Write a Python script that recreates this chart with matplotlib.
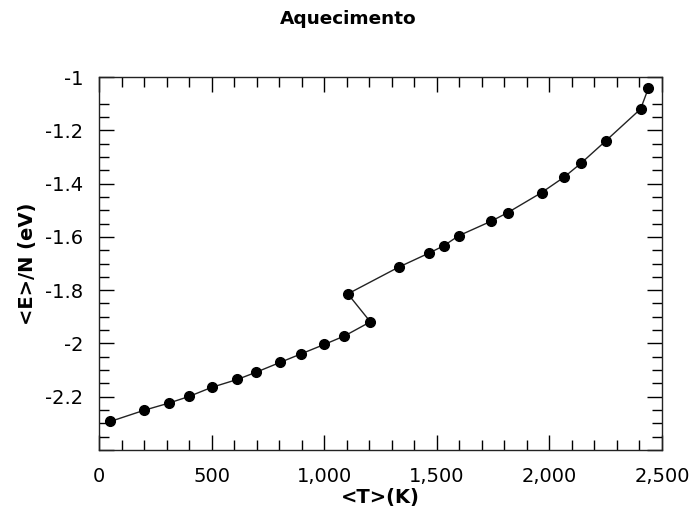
import numpy as np
import matplotlib
matplotlib.use("Agg")
import matplotlib.pyplot as plt
from matplotlib.ticker import MultipleLocator, FixedLocator, FuncFormatter

# temperatura media (K) e energia por atomo (eV) - aquecimento
temp = [50, 200, 310, 400, 500, 615, 695, 805, 895, 1000, 1090, 1205, 1105,
        1330, 1465, 1530, 1597, 1742, 1815, 1965, 2065, 2140, 2250, 2405, 2440]
energy = [-2.293, -2.251, -2.224, -2.199, -2.165, -2.135, -2.109, -2.071, -2.040,
          -2.004, -1.972, -1.919, -1.814, -1.714, -1.661, -1.634, -1.596, -1.541,
          -1.509, -1.434, -1.376, -1.324, -1.240, -1.120, -1.041]

fig = plt.figure(figsize=(6.96, 5.15), dpi=100)
ax = fig.add_axes([99/696, 65/515, 563/696, 373/515])

ax.plot(temp, energy, color="#222222", lw=1.0, marker="o", ms=7,
        mfc="black", mec="black")

ax.set_xlim(0, 2500)
ax.set_ylim(-2.4, -1.0)
ax.xaxis.set_major_locator(MultipleLocator(500))
ax.xaxis.set_minor_locator(MultipleLocator(100))
ax.yaxis.set_major_locator(MultipleLocator(0.2))
ax.yaxis.set_minor_locator(FixedLocator(np.arange(-2.35, -1.09, 0.05)))
ax.xaxis.set_major_formatter(FuncFormatter(lambda v, p: f"{v:,.0f}"))
ax.yaxis.set_major_formatter(FuncFormatter(lambda v, p: "" if v < -2.39 else f"{round(v, 1):g}"))

ax.tick_params(which="both", direction="in", top=True, right=True,
               labelsize=14, colors="black", width=1.0)
ax.tick_params(which="major", length=10.5)
ax.tick_params(which="minor", length=7)
ax.tick_params(axis="x", which="major", pad=12)
ax.tick_params(axis="y", which="major", pad=11.5)
for s in ax.spines.values():
    s.set_linewidth(1.0)
    s.set_color("#222222")

ax.set_xlabel("<T>(K)", fontsize=14, fontweight="bold", labelpad=2)
ax.set_ylabel("<E>/N (eV)", fontsize=14, fontweight="bold", labelpad=6)
fig.suptitle("Aquecimento", fontsize=13.3, fontweight="bold", y=0.98)

fig.savefig("out.png", dpi=100)
